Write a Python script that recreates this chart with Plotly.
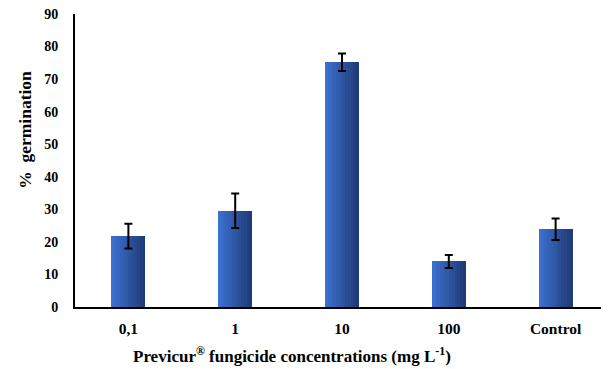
import plotly.graph_objects as go
import numpy as np

categories = ["0,1", "1", "10", "100", "Control"]
germination = [21.8, 29.6, 75.2, 14.0, 23.9]
std_err = [3.8, 5.3, 2.7, 2.0, 3.3]

bar_width = 0.32
n_strips = 12
light = np.array([60, 112, 206])
dark = np.array([32, 60, 118])

fig = go.Figure()
x_idx = list(range(len(categories)))
for i in range(n_strips):
    t = i / (n_strips - 1)
    c = (light * (1 - t) + dark * t).astype(int)
    fig.add_trace(go.Bar(
        x=x_idx, y=germination,
        width=bar_width / n_strips,
        offset=-bar_width / 2 + i * bar_width / n_strips,
        marker=dict(color=f"rgb({c[0]},{c[1]},{c[2]})", line=dict(width=0)),
        showlegend=False, hoverinfo="skip",
    ))

fig.add_trace(go.Scatter(
    x=x_idx, y=germination, mode="markers",
    marker=dict(size=0.1, color="rgba(0,0,0,0)"),
    error_y=dict(type="data", array=std_err, color="black", thickness=2, width=4),
    showlegend=False,
))

font_fam = "Liberation Serif"
fig.update_layout(
    width=601, height=361,
    margin=dict(l=67, r=0, t=6, b=62),
    paper_bgcolor="white", plot_bgcolor="white",
    barmode="overlay", bargap=0,
    font=dict(family=font_fam, color="black", size=14),
    xaxis=dict(
        tickmode="array", tickvals=x_idx,
        ticktext=[f"<b>{c}</b>" for c in categories],
        range=[-0.5, 4.5], showgrid=False, zeroline=False,
        showline=True, linecolor="black", linewidth=2, ticks="",
        tickfont=dict(size=15.5, family=font_fam),
        ticklabelstandoff=6,
    ),
    yaxis=dict(
        range=[0, 90], tickvals=list(range(0, 91, 10)),
        ticktext=[f"<b>{v}</b>" for v in range(0, 91, 10)],
        showgrid=False, zeroline=False,
        showline=True, linecolor="black", linewidth=2, ticks="",
        tickfont=dict(size=14, family=font_fam),
        ticklabelstandoff=12, ticklabeloverflow="allow",
    ),
    annotations=[
        dict(text="<b>%  germination</b>", textangle=-90,
             xref="paper", yref="paper", x=-0.094, y=0.604,
             xanchor="center", yanchor="middle", showarrow=False,
             font=dict(size=17.5, family=font_fam)),
        dict(text="<b>Previcur<sup>®</sup> fungicide concentrations (mg L<sup>-1</sup>)</b>",
             xref="paper", yref="paper", x=0.406, y=-0.164,
             xanchor="center", yanchor="middle", showarrow=False,
             font=dict(size=17, family=font_fam)),
    ],
)

fig.write_html("out.html")
